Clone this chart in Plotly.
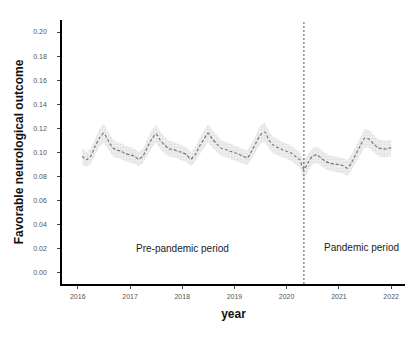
import plotly.graph_objects as go
import pandas as pd

# Monthly estimated proportion of favorable neurological outcome (Feb 2016 - Jan 2022)
months = pd.date_range("2016-02-01", "2022-01-01", freq="MS")
estimate = [
    # 2016 (Feb-Dec)
    0.097, 0.094, 0.097, 0.105, 0.112, 0.116, 0.110, 0.104, 0.102, 0.101, 0.099,
    # 2017
    0.098, 0.097, 0.0945, 0.097, 0.104, 0.111, 0.1155, 0.110, 0.106, 0.103, 0.1025, 0.101,
    # 2018
    0.100, 0.098, 0.0945, 0.098, 0.105, 0.111, 0.116, 0.111, 0.107, 0.1035, 0.1025, 0.101,
    # 2019
    0.100, 0.0985, 0.097, 0.0955, 0.101, 0.108, 0.1145, 0.117, 0.110, 0.106, 0.104, 0.1025,
    # 2020
    0.101, 0.0995, 0.097, 0.094, 0.0858, 0.092, 0.097, 0.098, 0.095, 0.0925, 0.091, 0.0905,
    # 2021
    0.090, 0.089, 0.087, 0.092, 0.099, 0.106, 0.112, 0.111, 0.107, 0.104, 0.103, 0.103,
    # 2022 (Jan)
    0.104,
]
# Half-width of the 95% confidence band
ci_half = [
    0.007, 0.006, 0.0065, 0.007, 0.0075, 0.0078, 0.0072, 0.007, 0.0068, 0.0066, 0.0065,
    0.0065, 0.0063, 0.006, 0.0062, 0.0068, 0.0072, 0.0075, 0.0072, 0.0068, 0.0066, 0.0065, 0.0064,
    0.0064, 0.0062, 0.006, 0.0062, 0.0068, 0.0073, 0.0076, 0.0072, 0.0068, 0.0066, 0.0065, 0.0064,
    0.0064, 0.0062, 0.006, 0.006, 0.0065, 0.0072, 0.0076, 0.0078, 0.0072, 0.0068, 0.0066, 0.0065,
    0.0065, 0.0064, 0.0063, 0.0065, 0.0082, 0.0072, 0.0068, 0.0068, 0.0066, 0.0065, 0.0064, 0.0064,
    0.0064, 0.0064, 0.0065, 0.0067, 0.0070, 0.0073, 0.0076, 0.0074, 0.0072, 0.0070, 0.0070, 0.0070,
    0.0070,
]

pandemic_start = "2020-05-01"
year_ticks = [f"{y}-01-01" for y in range(2016, 2023)]
year_labels = [str(y) for y in range(2016, 2023)]
y_ticks = [round(0.02 * i, 2) for i in range(11)]

upper = [e + h for e, h in zip(estimate, ci_half)]
lower = [e - h for e, h in zip(estimate, ci_half)]

fig = go.Figure()

# confidence band
fig.add_trace(go.Scatter(
    x=list(months), y=upper, mode="lines", line=dict(width=0, color="rgba(0,0,0,0)"),
    hoverinfo="skip", showlegend=False,
))
fig.add_trace(go.Scatter(
    x=list(months), y=lower, mode="lines", line=dict(width=0, color="rgba(0,0,0,0)"),
    fill="tonexty", fillcolor="#ececec",
    fillpattern=dict(shape=".", bgcolor="#ededed", fgcolor="#cfcfcf", size=3, solidity=0.25),
    hoverinfo="skip", showlegend=False,
))
# point estimate
fig.add_trace(go.Scatter(
    x=list(months), y=estimate, mode="lines",
    line=dict(color="#7a7a7a", width=1.2, dash="3px,2px", shape="spline", smoothing=0.6),
    showlegend=False,
))

# start of the pandemic period
fig.add_shape(type="line", xref="x", yref="paper", x0=pandemic_start, x1=pandemic_start,
              y0=0, y1=1, line=dict(color="#555555", width=1, dash="2px,2px"))

fig.add_annotation(x="2018-01-05", y=0.0205, text="Pre-pandemic period", showarrow=False,
                   font=dict(size=10, color="#222222", family="Liberation Sans"))
fig.add_annotation(x="2021-06-10", y=0.0213, text="Pandemic period", showarrow=False,
                   font=dict(size=10, color="#222222", family="Liberation Sans"))

fig.update_layout(
    width=416, height=340,
    margin=dict(l=62, r=11, t=20, b=56),
    paper_bgcolor="white", plot_bgcolor="white",
    font=dict(family="Liberation Sans", color="#444444"),
    xaxis=dict(
        type="date", range=["2015-09-13", "2022-04-08"],
        tickmode="array", tickvals=year_ticks, ticktext=year_labels,
        showgrid=False, zeroline=False, showline=True, linecolor="black", linewidth=1.5,
        ticks="outside", ticklen=3, tickcolor="#444444", tickwidth=1,
        tickfont=dict(size=7, color="#555555"), ticklabelstandoff=2,
        title=dict(text="<b>year</b>", font=dict(size=12, color="#111111"), standoff=10),
    ),
    yaxis=dict(
        range=[-0.0092, 0.21],
        tickmode="array", tickvals=y_ticks, ticktext=[f"{v:.2f}" for v in y_ticks],
        showgrid=False, zeroline=False, showline=True, linecolor="black", linewidth=1.5,
        ticks="outside", ticklen=3, tickcolor="#444444", tickwidth=1,
        tickfont=dict(size=7, color="#555555"), ticklabelstandoff=9,
        title=dict(text="<b>Favorable neurological outcome</b>", font=dict(size=12, color="#111111"),
                   standoff=7),
    ),
)

fig.write_html("out.html")
